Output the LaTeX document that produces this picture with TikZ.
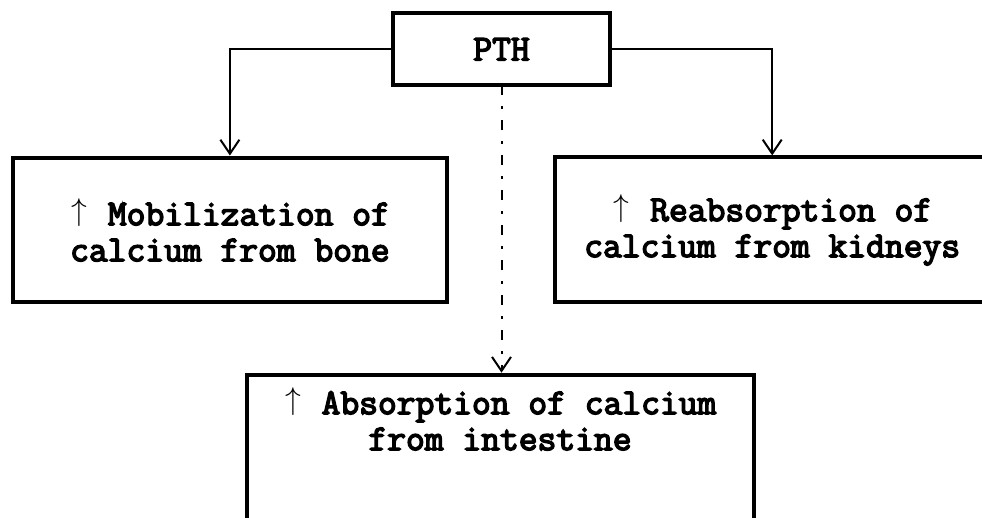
\documentclass[tikz,border=0pt]{standalone}
\usepackage{fontspec}
\usepackage{graphicx}
\newfontfamily\boxfont[FakeBold=4]{Latin Modern Mono}
\usepackage{tikz}
\usetikzlibrary{arrows.meta}

\newcommand{\upar}{\makebox[0.525em]{\raisebox{5pt}{\resizebox*{!}{28pt}{$\uparrow$}}}}

\begin{document}
\begin{tikzpicture}[x=1pt, y=-1pt, shorten >=2pt,
		box_style/.style={draw=black, line width=4pt, outer sep=0pt, inner sep=0pt},
		text_style/.style={align=center, font=\boxfont\fontsize{36.5}{36}\selectfont},
		edge_style/.style={draw=black, line width=2pt, -{Straight Barb[length=14pt,width=19pt]}},
		dash_style/.style={edge_style, dash pattern=on 10pt off 11pt on 3pt off 11pt}]

		\useasboundingbox (0,0) rectangle (982,517);
		\clip (0,0) rectangle (982,517);

		\node[box_style, text_style, minimum width=217pt, minimum height=72pt] (n_pth) at (501.5,49.3) {PTH};
		\node[box_style, text_style, minimum width=433.7pt, minimum height=144.8pt] (n_bone) at (229.9,229.9) {\upar{} Mobilization of\\calcium from bone};
		\node[box_style, text_style, minimum width=433.7pt, minimum height=144.8pt] (n_kidney) at (772.2,229.8) {\upar{} Reabsorption of\\calcium from kidneys};
		\node[box_style, minimum width=506.5pt, minimum height=145pt] (n_gut) at (500.7,447.2) {};
		\node[text_style] (t_gut) at (500,418.8) {\upar{} Absorption of calcium\\from intestine};

		\draw[edge_style]  (n_pth.west) -| (n_bone.north);
		\draw[edge_style]  (n_pth.east) -| (n_kidney.north);
		\draw[dash_style]  (n_pth.south) -- (n_pth.south |- n_gut.north);
\end{tikzpicture}
\end{document}
